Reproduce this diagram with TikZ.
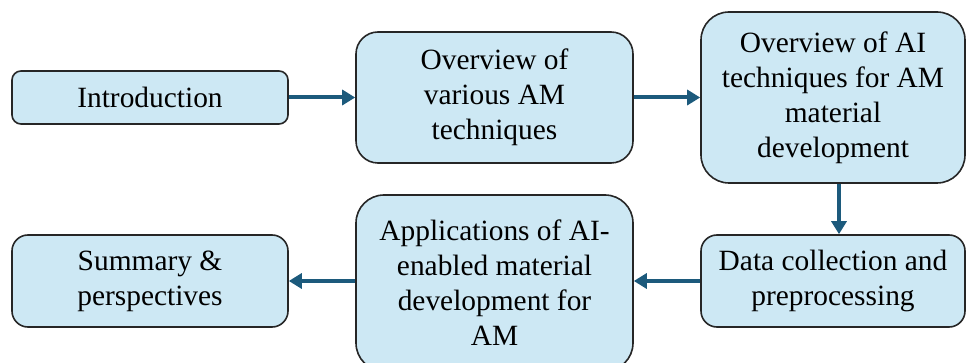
\documentclass[tikz,border=0pt]{standalone}
\usepackage{fontspec}
\setmainfont{Liberation Serif}
\usetikzlibrary{arrows.meta}
\definecolor{boxfill}{RGB}{205,232,244}
\definecolor{arrowc}{RGB}{28,90,124}
\begin{document}
\begin{tikzpicture}[x=1pt,y=-1pt,
  box/.style={draw=black!85, line width=1.6pt, fill=boxfill, align=center,
    font=\fontsize{29.4}{35}\selectfont, inner sep=0pt},
  conn/.style={draw=arrowc, line width=4pt, -{Triangle[length=13pt,width=15pt]}}]
\useasboundingbox (0,0) rectangle (967,363);
\node[box, minimum width=276pt, minimum height=53pt, rounded corners=9pt] (intro) at (150,97.5) {Introduction};
\node[box, minimum width=277pt, minimum height=131pt, rounded corners=22pt] (ovam) at (494.5,97.5) {Overview of\\various AM\\techniques};
\node[box, minimum width=264pt, minimum height=171pt, rounded corners=28pt] (ovai) at (833,97.5) {Overview of AI\\techniques for AM\\material\\development};
\node[box, minimum width=264pt, minimum height=92pt, rounded corners=16pt] (data) at (833,281) {Data collection and\\preprocessing};
\node[box, minimum width=277pt, minimum height=176pt, rounded corners=28pt] (app) at (494.5,283) {Applications of AI-\\enabled material\\development for\\AM};
\node[box, minimum width=276pt, minimum height=92pt, rounded corners=16pt] (sum) at (150,281) {Summary \&\\perspectives};
\draw[conn] (intro.east) -- (ovam.west);
\draw[conn] (ovam.east) -- (ovai.west);
\draw[conn] (ovai.south -| 839,0) -- (data.north -| 839,0);
\draw[conn] (data.west) -- (data.west -| app.east);
\draw[conn] (sum.east -| app.west) -- (sum.east);
\end{tikzpicture}
\end{document}
